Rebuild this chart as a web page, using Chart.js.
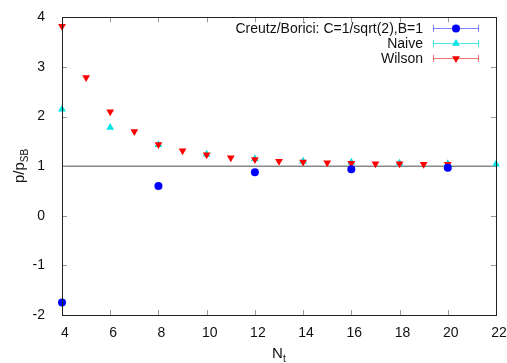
<!DOCTYPE html>
<html>
<head>
<meta charset="utf-8">
<script src="https://cdn.jsdelivr.net/npm/chart.js@4.4.1/dist/chart.umd.min.js"></script>
<style>
  html, body { margin: 0; padding: 0; background: #fff; }
  #wrap { width: 507px; height: 363px; }
</style>
</head>
<body>
<div id="wrap"><canvas id="myChart" width="507" height="363"></canvas></div>
<script>
// Data
const wilsonNt = [4, 5, 6, 7, 8, 9, 10, 11, 12, 13, 14, 15, 16, 17, 18, 19, 20];
const wilsonVals = [3.82, 2.79, 2.1, 1.7, 1.44, 1.31, 1.23, 1.17, 1.135, 1.1, 1.085, 1.07, 1.06, 1.05, 1.05, 1.04, 1.04];
const naiveNt = [4, 6, 8, 10, 12, 14, 16, 18, 20, 22];
const naiveVals = [2.15, 1.78, 1.43, 1.24, 1.15, 1.1, 1.08, 1.06, 1.05, 1.04];
const creutzNt = [4, 8, 12, 16, 20];
const creutzVals = [-1.75, 0.6, 0.88, 0.94, 0.97];
const xTicks = [4, 6, 8, 10, 12, 14, 16, 18, 20, 22];
const yTicks = [-2, -1, 0, 1, 2, 3, 4];
const refLine = [1, 1];

const FONT = '"Liberation Sans", Arial, sans-serif';

// zip x and y arrays into points
function pts(xs, ys) {
    return xs.map((x, i) => ({ x: x, y: ys[i] }));
}

const legendItems = [
    { label: 'Creutz/Borici: C=1/sqrt(2),B=1', color: '#0000ff', line: 'rgba(80,80,255,0.7)', style: 'circle', rot: 0 },
    { label: 'Naive', color: '#00e5e5', line: 'rgba(0,220,220,0.7)', style: 'triangle', rot: 0 },
    { label: 'Wilson', color: '#ff0000', line: 'rgba(230,60,60,0.7)', style: 'triangle', rot: 180 }
];

// Border, inward mirror ticks, axis titles and key
const framePlugin = {
    id: 'frame',
    afterDatasetsDraw(chart) {
        const ctx = chart.ctx;
        const a = chart.chartArea;
        const xs = chart.scales.x, ys = chart.scales.y;
        ctx.save();
        ctx.lineWidth = 1;
        ctx.strokeStyle = '#999';
        ctx.beginPath();
        xTicks.forEach(v => {
            const px = Math.round(xs.getPixelForValue(v)) + 0.5;
            ctx.moveTo(px, a.bottom); ctx.lineTo(px, a.bottom - 5);
            ctx.moveTo(px, a.top); ctx.lineTo(px, a.top + 5);
        });
        yTicks.forEach(v => {
            const py = Math.round(ys.getPixelForValue(v)) + 0.5;
            ctx.moveTo(a.left, py); ctx.lineTo(a.left + 5, py);
            ctx.moveTo(a.right, py); ctx.lineTo(a.right - 5, py);
        });
        ctx.stroke();

        ctx.strokeStyle = '#222';
        ctx.strokeRect(Math.round(a.left) + 0.5, Math.round(a.top) + 0.5,
            Math.round(a.right - a.left), Math.round(a.bottom - a.top));

        // x title N_t
        ctx.fillStyle = '#111';
        ctx.textBaseline = 'alphabetic';
        ctx.textAlign = 'left';
        ctx.font = '15px ' + FONT;
        ctx.fillText('N', 272, 358);
        ctx.font = '10px ' + FONT;
        ctx.fillText('t', 283, 362);

        // y title p/p_SB rotated
        ctx.save();
        ctx.translate(24, 166);
        ctx.rotate(-Math.PI / 2);
        ctx.font = '15px ' + FONT;
        const w1 = ctx.measureText('p/p').width;
        ctx.font = '10px ' + FONT;
        const w2 = ctx.measureText('SB').width;
        const start = -(w1 + w2) / 2;
        ctx.font = '15px ' + FONT;
        ctx.fillText('p/p', start, 0);
        ctx.font = '10px ' + FONT;
        ctx.fillText('SB', start + w1, 4);
        ctx.restore();

        // key
        ctx.font = '14px ' + FONT;
        ctx.textAlign = 'right';
        ctx.textBaseline = 'middle';
        legendItems.forEach((it, i) => {
            const y = 28 + i * 15;
            ctx.fillStyle = '#111';
            ctx.fillText(it.label, 423, y + 1);
            ctx.strokeStyle = it.line;
            ctx.beginPath();
            ctx.moveTo(433, y + 0.5); ctx.lineTo(479, y + 0.5);
            ctx.moveTo(433.5, y - 3); ctx.lineTo(433.5, y + 4);
            ctx.moveTo(478.5, y - 3); ctx.lineTo(478.5, y + 4);
            ctx.stroke();
            ctx.fillStyle = it.color;
            ctx.strokeStyle = it.color;
            Chart.helpers.drawPoint(ctx, { pointStyle: it.style, radius: it.style === 'circle' ? 4 : 4.5, rotation: it.rot, borderWidth: 0 }, 456, y + 0.5);
        });
        ctx.restore();
    }
};

new Chart(document.getElementById('myChart').getContext('2d'), {
    type: 'scatter',
    data: {
        datasets: [
            {
                label: 'Creutz/Borici: C=1/sqrt(2),B=1',
                data: pts(creutzNt, creutzVals),
                pointStyle: 'circle',
                pointRadius: 4,
                backgroundColor: '#0000ff',
                borderColor: '#0000ff',
                borderWidth: 0,
                clip: false,
                order: 1
            },
            {
                label: 'Wilson',
                data: pts(wilsonNt, wilsonVals),
                pointStyle: 'triangle',
                rotation: 180,
                pointRadius: 4.5,
                backgroundColor: '#ff0000',
                borderColor: '#ff0000',
                borderWidth: 0,
                clip: false,
                order: 2
            },
            {
                label: 'Naive',
                data: pts(naiveNt, naiveVals),
                pointStyle: 'triangle',
                pointRadius: 4.5,
                backgroundColor: '#00e5e5',
                borderColor: '#00e5e5',
                borderWidth: 0,
                clip: false,
                order: 3
            },
            {
                label: 'ref',
                type: 'line',
                data: pts([4, 22], refLine),
                borderColor: '#888',
                borderWidth: 1.5,
                pointRadius: 0,
                order: 10
            }
        ]
    },
    options: {
        responsive: false,
        animation: false,
        events: [],
        layout: { padding: { left: 0, top: 14, right: 11, bottom: 0 } },
        plugins: {
            legend: { display: false },
            tooltip: { enabled: false }
        },
        scales: {
            x: {
                type: 'linear',
                min: 4,
                max: 22,
                afterFit: s => { s.height = 48; },
                afterBuildTicks: s => { s.ticks = xTicks.map(v => ({ value: v })); },
                grid: { display: false },
                border: { display: false },
                ticks: { color: '#111', font: { family: FONT, size: 14 }, padding: 2, labelOffset: 3, maxRotation: 0 }
            },
            y: {
                min: -2,
                max: 4,
                afterFit: s => { s.width = 62; },
                afterBuildTicks: s => { s.ticks = yTicks.map(v => ({ value: v })); },
                grid: { display: false },
                border: { display: false },
                ticks: { color: '#111', font: { family: FONT, size: 14 }, padding: 9 }
            }
        }
    },
    plugins: [framePlugin]
});
</script>
</body>
</html>
